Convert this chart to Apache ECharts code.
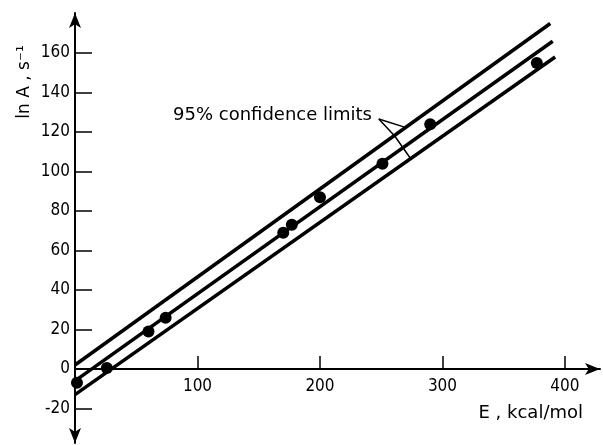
<!DOCTYPE html>
<html>
<head>
<meta charset="utf-8">
<script src="https://cdn.jsdelivr.net/npm/echarts@6/dist/echarts.min.js"></script>
<style>
  html, body { margin: 0; padding: 0; background: #fff; }
  #chart { width: 603px; height: 445px; }
</style>
</head>
<body>
<div id="chart"></div>
<script>
// measured points: activation energy E (kcal/mol) vs ln A
var energy = [1.6, 26, 60, 74, 170, 177, 200, 251, 290, 377];
var lnA = [-7, 0.5, 19, 26, 69, 73, 87, 104, 124, 155];

// fitted line and 95% confidence limits (end points)
var fitX = [0, 390];
var fitY = [-6, 166];
var upperX = [0, 388];
var upperY = [2, 175];
var lowerX = [0, 392];
var lowerY = [-13, 158];

var xTicks = [100, 200, 300, 400];
var yTicks = [-20, 0, 20, 40, 60, 80, 100, 120, 140, 160];

function pairs(xs, ys) {
  return xs.map(function (x, i) { return [x, ys[i]]; });
}

var ink = '#000';
var font = 'DejaVu Sans Condensed';

var dom = document.getElementById('chart');
var myChart = echarts.init(dom);

var lineStyle = { color: ink, width: 3.5 };

myChart.setOption({
  animation: false,
  backgroundColor: '#fff',
  grid: { left: 75, right: 3, top: 13, bottom: 2, containLabel: false },
  xAxis: {
    type: 'value',
    min: 0,
    max: 428.6,
    position: 'bottom',
    offset: -74,   // axis line sits at lnA = 0
    splitLine: { show: false },
    axisLine: {
      onZero: false,
      symbol: ['none', 'arrow'],
      symbolSize: [9, 15],
      lineStyle: { color: ink, width: 2 }
    },
    axisTick: {
      inside: true,
      length: 13,
      customValues: xTicks,
      lineStyle: { color: ink, width: 1.5 }
    },
    axisLabel: {
      customValues: xTicks,
      margin: 9,
      color: ink,
      fontFamily: font,
      fontSize: 17
    }
  },
  yAxis: {
    type: 'value',
    min: -37.5,
    max: 180.3,
    splitLine: { show: false },
    axisLine: {
      onZero: false,
      symbol: ['arrow', 'arrow'],
      symbolSize: [9, 15],
      lineStyle: { color: ink, width: 2 }
    },
    axisTick: {
      inside: true,
      length: 17,
      customValues: yTicks,
      lineStyle: { color: ink, width: 1.5 }
    },
    axisLabel: {
      customValues: yTicks,
      margin: 5,
      color: ink,
      fontFamily: font,
      fontSize: 17
    }
  },
  series: [
    { type: 'line', data: pairs(upperX, upperY), symbol: 'none', lineStyle: lineStyle, silent: true },
    { type: 'line', data: pairs(fitX, fitY), symbol: 'none', lineStyle: lineStyle, silent: true },
    { type: 'line', data: pairs(lowerX, lowerY), symbol: 'none', lineStyle: lineStyle, silent: true },
    {
      type: 'scatter',
      data: pairs(energy, lnA),
      symbol: 'circle',
      symbolSize: 12,
      itemStyle: { color: ink, opacity: 1 },
      z: 5
    },
    // leader lines of the confidence-limit note
    {
      type: 'line',
      data: [[248, 126.6], [269, 122.5]],
      symbol: 'none',
      lineStyle: { color: ink, width: 1.5 },
      silent: true
    },
    {
      type: 'line',
      data: [[248, 126.6], [261, 118], [273.5, 107]],
      symbol: 'none',
      lineStyle: { color: ink, width: 1.5 },
      silent: true
    }
  ],
  graphic: [
    {
      type: 'text',
      x: 372,
      y: 115,
      style: {
        text: '95% confidence limits',
        fill: ink,
        font: '18px "DejaVu Sans"',
        align: 'right',
        verticalAlign: 'middle'
      }
    },
    {
      type: 'text',
      x: 583,
      y: 413,
      style: {
        text: 'E , kcal/mol',
        fill: ink,
        font: '18px "DejaVu Sans"',
        align: 'right',
        verticalAlign: 'middle'
      }
    },
    {
      type: 'text',
      x: 25,
      y: 82,
      rotation: Math.PI / 2,
      style: {
        text: 'ln A , s⁻¹',
        fill: ink,
        font: '17px "DejaVu Sans"',
        align: 'center',
        verticalAlign: 'middle'
      }
    }
  ]
});
</script>
</body>
</html>
